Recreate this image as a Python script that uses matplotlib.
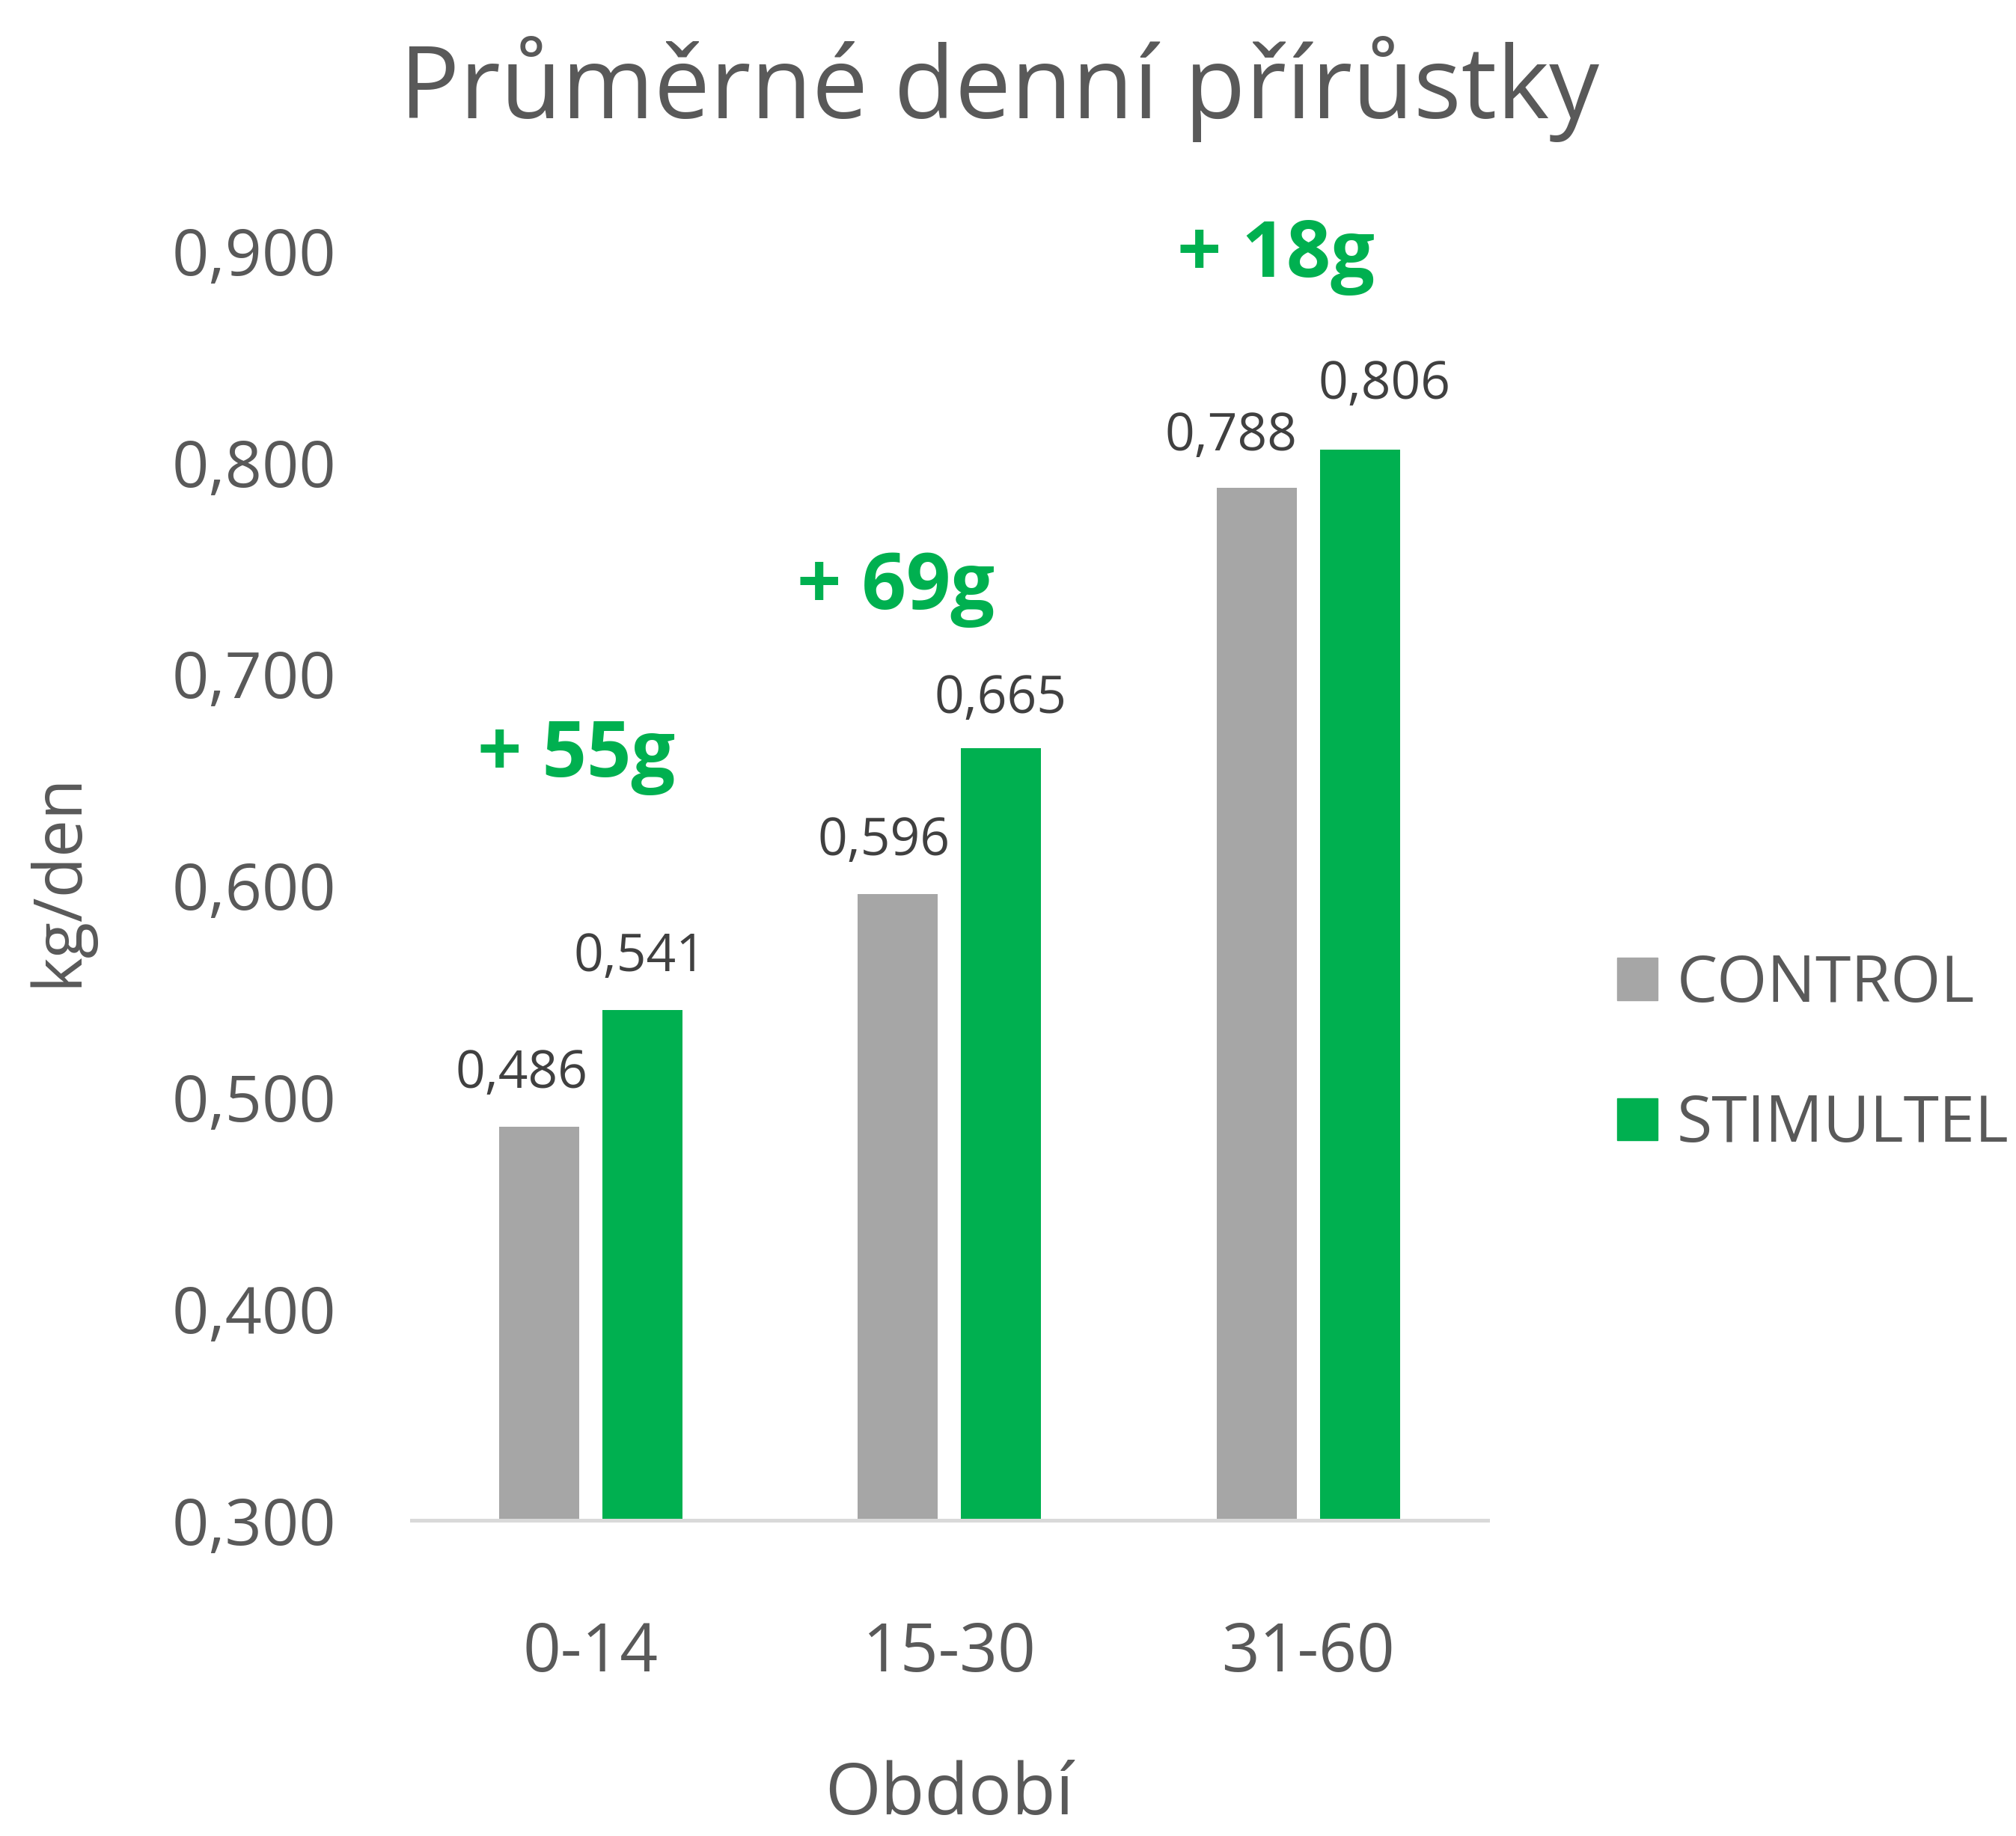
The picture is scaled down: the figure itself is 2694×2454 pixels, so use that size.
import numpy as np
import matplotlib

matplotlib.use("Agg")
import matplotlib.pyplot as plt
from matplotlib.patches import Patch

plt.rcParams['font.family'] = ['Open Sans', 'DejaVu Sans']

# --- data ---
periods = ["0-14", "15-30", "31-60"]
series_names = ["CONTROL", "STIMULTEL"]
control = [0.486, 0.596, 0.788]
stimultel = [0.541, 0.665, 0.806]
yticks = [0.3, 0.4, 0.5, 0.6, 0.7, 0.8, 0.9]

# where the "+ XXg" notes sit (category offset, y value)
gain_pos = [(-0.04, 0.661), (-0.15, 0.740), (-0.09, 0.897)]
# sideways / vertical nudges of value labels (px) as in the original
ctrl_nudge = [-23, -19, -34]
stim_nudge = [-3, -1, 33]
ctrl_up = [70, 70, 68]
stim_up = [70, 65, 86]

GRAY = "#A6A6A6"
GREEN = "#00B050"
TEXT = "#595959"

fig = plt.figure(figsize=(26.94, 24.54), dpi=100)
ax = fig.add_axes([0.204, 0.172, 0.534, 0.6915])

x = np.arange(len(periods))
w = 0.223
off = 0.144
ax.bar(x - off, control, w, color=GRAY)
ax.bar(x + off, stimultel, w, color=GREEN)

ax.set_ylim(0.3, 0.9)
ax.set_xlim(-0.5, 2.5)
ax.set_yticks(yticks)
ax.set_yticklabels([f"{v:.3f}".replace(".", ",") for v in yticks])
ax.set_xticks(x)
ax.set_xticklabels(periods)
ax.tick_params(axis='y', length=0, pad=72, labelsize=62, labelcolor=TEXT)
ax.tick_params(axis='x', length=0, pad=96, labelsize=64, labelcolor=TEXT)

for s in ["top", "right", "left"]:
    ax.spines[s].set_visible(False)
ax.spines["bottom"].set_color("#D9D9D9")
ax.spines["bottom"].set_linewidth(3.6)

# value labels
for i in range(len(periods)):
    ax.annotate(f"{control[i]:.3f}".replace(".", ","), (x[i] - off, control[i]),
                xytext=(ctrl_nudge[i] * 0.72, ctrl_up[i] * 0.72), textcoords="offset points",
                ha="center", va="center", fontsize=50, color="#404040")
    ax.annotate(f"{stimultel[i]:.3f}".replace(".", ","), (x[i] + off, stimultel[i]),
                xytext=(stim_nudge[i] * 0.72, stim_up[i] * 0.72), textcoords="offset points",
                ha="center", va="center", fontsize=50, color="#404040")

# gain notes
for i in range(len(periods)):
    gain = round((stimultel[i] - control[i]) * 1000)
    dx, yy = gain_pos[i]
    ax.text(x[i] + dx, yy, f"+ {gain}g", ha="center", va="center",
            fontsize=75, fontweight="bold", color=GREEN)

fig.text(0.4956, 0.9356, "Průměrné denní přírůstky", ha="center", va="baseline",
         fontsize=96, color=TEXT)
fig.text(0.4707, 0.012, "Období", ha="center", va="baseline", fontsize=69, color=TEXT)
fig.text(0.0293, 0.521, "kg/den", ha="center", va="center", rotation=90,
         fontsize=64, color=TEXT)

handles = [Patch(color=GRAY), Patch(color=GREEN)]
fig.legend(handles, series_names, loc="center left", bbox_to_anchor=(0.802, 0.4253),
           frameon=False, fontsize=62, labelcolor=TEXT, handlelength=0.63,
           handleheight=0.63, handletextpad=0.3, labelspacing=1.17, borderpad=0,
           borderaxespad=0)

fig.savefig("out.png", dpi=100)
